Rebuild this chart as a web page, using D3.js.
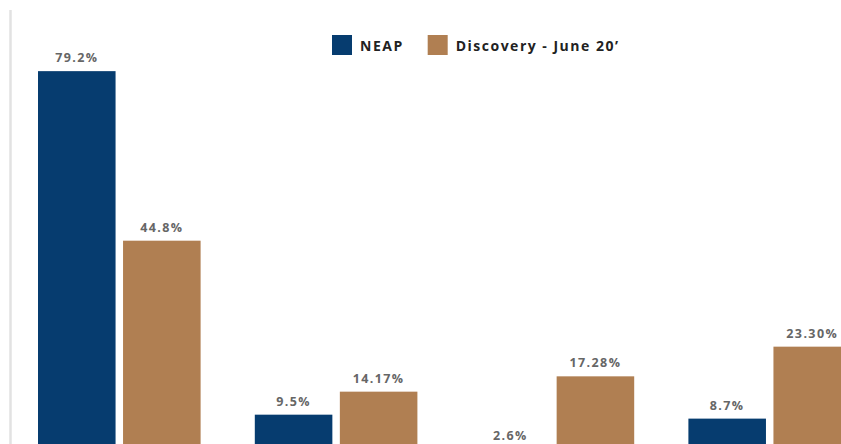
<!DOCTYPE html>
<html>
<head>
<meta charset="utf-8">
<script src="https://cdn.jsdelivr.net/npm/d3@7"></script>
<style>
  html, body { margin: 0; padding: 0; background: #fff; overflow: hidden; }
  svg { display: block; font-family: "Open Sans", sans-serif; }
</style>
</head>
<body>
<svg id="chart" width="841" height="444"></svg>
<script>
// ---- data ----
const categories = ["Group 1", "Group 2", "Group 3", "Group 4"];
const seriesNames = ["NEAP", "Discovery - June 20’"];
const neapValues = [79.2, 9.5, 2.6, 8.7];
const discoveryValues = [44.8, 14.17, 17.28, 23.30];
const neapLabels = ["79.2%", "9.5%", "2.6%", "8.7%"];
const discoveryLabels = ["44.8%", "14.17%", "17.28%", "23.30%"];
const colors = ["#063c6f", "#b07f52"];

const rows = categories.map((c, i) => ({
  cat: c,
  vals: [
    { s: 0, v: neapValues[i], label: neapLabels[i] },
    { s: 1, v: discoveryValues[i], label: discoveryLabels[i] }
  ]
}));

const svg = d3.select("#chart");
const W = 841, H = 444;

const x0 = d3.scaleBand().domain(categories).range([38, 851]).paddingInner(0.25).paddingOuter(0);
const x1 = d3.scaleBand().domain([0, 1]).range([0, x0.bandwidth()]).paddingInner(0.088).paddingOuter(0);
const y = d3.scaleLinear().domain([0, 80]).range([461.5, 67.2]);

// left axis line
svg.append("line")
  .attr("x1", 10.5).attr("x2", 10.5)
  .attr("y1", 10).attr("y2", H)
  .attr("stroke", "#e2e2e2").attr("stroke-width", 2.5);

const g = svg.selectAll("g.grp").data(rows).enter().append("g")
  .attr("class", "grp")
  .attr("transform", d => `translate(${x0(d.cat)},0)`);

g.selectAll("rect").data(d => d.vals).enter().append("rect")
  .attr("x", d => x1(d.s))
  .attr("y", d => y(d.v))
  .attr("width", x1.bandwidth())
  .attr("height", d => y(0) - y(d.v))
  .attr("fill", d => colors[d.s]);

g.selectAll("text").data(d => d.vals).enter().append("text")
  .attr("x", d => x1(d.s) + x1.bandwidth() / 2)
  .attr("y", d => y(d.v) - 9)
  .attr("text-anchor", "middle")
  .attr("font-size", "12.5px")
  .attr("font-weight", 700)
  .attr("letter-spacing", "1.4px")
  .attr("fill", "#666")
  .text(d => d.label);

// legend
const legend = svg.append("g").attr("transform", "translate(332,35)");
let lx = 0;
seriesNames.forEach((name, i) => {
  legend.append("rect").attr("x", lx).attr("y", 0).attr("width", 20).attr("height", 20).attr("fill", colors[i]);
  const t = legend.append("text")
    .attr("x", lx + 28).attr("y", 16)
    .attr("font-size", "14px").attr("font-weight", 700)
    .attr("letter-spacing", "1.5px")
    .attr("fill", "#222")
    .text(name);
  lx += 28 + t.node().getComputedTextLength() + 24;
});
</script>
</body>
</html>
